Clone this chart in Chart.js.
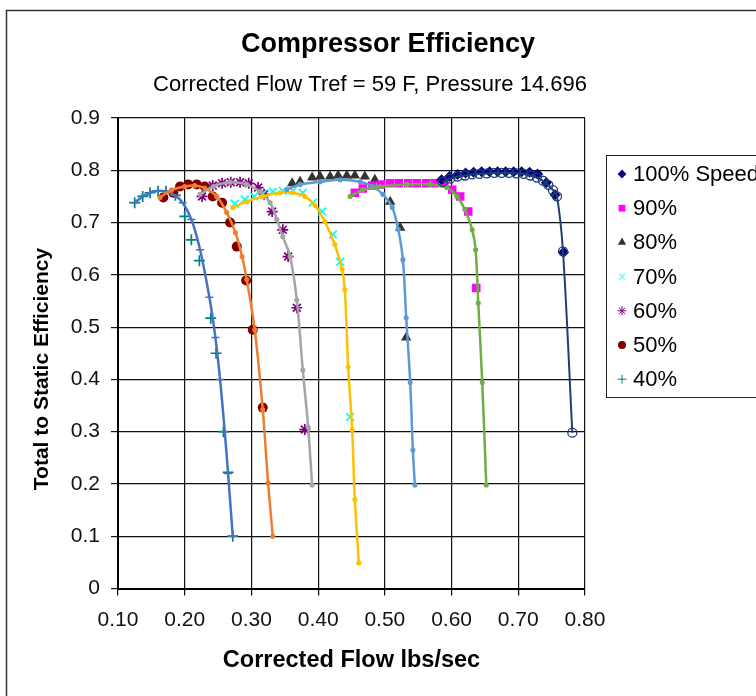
<!DOCTYPE html>
<html>
<head>
<meta charset="utf-8">
<script src="https://cdn.jsdelivr.net/npm/chart.js@4.4.1/dist/chart.umd.min.js"></script>
<style>
  html, body { margin: 0; padding: 0; background: #fff; }
  canvas { display: block; }
</style>
</head>
<body>
<canvas id="grafico" width="756" height="696"></canvas>
<script>
const FONTE = '"Liberation Sans", Arial, sans-serif';

// legend labels, top to bottom
const series = ['100% Speed', '90%', '80%', '70%', '60%', '50%', '40%'];

const xTicks = [0.1, 0.2, 0.3, 0.4, 0.5, 0.6, 0.7, 0.8];
const yTicks = [0, 0.1, 0.2, 0.3, 0.4, 0.5, 0.6, 0.7, 0.8, 0.9];

// measured points [flow, efficiency]
const pts100 = [[0.585,0.782],[0.597,0.788],[0.609,0.792],[0.621,0.795],[0.633,0.796],[0.645,0.797],[0.657,0.797],[0.669,0.797],[0.681,0.797],[0.693,0.797],[0.705,0.797],[0.717,0.796],[0.729,0.793],[0.742,0.776],[0.755,0.753],[0.768,0.643]];
const pts90 = [[0.455,0.757],[0.467,0.765],[0.481,0.771],[0.494,0.773],[0.508,0.775],[0.521,0.775],[0.535,0.775],[0.548,0.775],[0.562,0.775],[0.575,0.775],[0.589,0.775],[0.601,0.763],[0.613,0.75],[0.625,0.721],[0.637,0.575]];
const pts80 = [[0.361,0.775],[0.373,0.778],[0.391,0.786],[0.403,0.788],[0.418,0.788],[0.43,0.79],[0.443,0.79],[0.455,0.79],[0.47,0.788],[0.485,0.782],[0.508,0.74],[0.523,0.69],[0.532,0.48]];
const pts70 = [[0.275,0.736],[0.29,0.744],[0.304,0.75],[0.317,0.755],[0.332,0.759],[0.347,0.761],[0.362,0.761],[0.377,0.757],[0.392,0.738],[0.406,0.721],[0.422,0.677],[0.433,0.625],[0.448,0.328]];
const pts60 = [[0.226,0.75],[0.242,0.771],[0.256,0.775],[0.269,0.777],[0.283,0.777],[0.296,0.775],[0.31,0.767],[0.319,0.754],[0.331,0.721],[0.347,0.686],[0.355,0.635],[0.368,0.537],[0.38,0.304]];
const pts50 = [[0.168,0.748],[0.183,0.757],[0.193,0.769],[0.205,0.773],[0.218,0.773],[0.23,0.769],[0.242,0.75],[0.256,0.738],[0.268,0.7],[0.278,0.654],[0.292,0.589],[0.302,0.495],[0.317,0.346]];
const pts40 = [[0.125,0.738],[0.137,0.75],[0.148,0.757],[0.16,0.76],[0.172,0.76],[0.186,0.752],[0.2,0.712],[0.21,0.667],[0.222,0.627],[0.239,0.517],[0.247,0.45],[0.258,0.3],[0.265,0.222],[0.272,0.1]];

// fitted curves
const fit100 = [[0.587,0.778],[0.598,0.784],[0.609,0.788],[0.62,0.79],[0.631,0.792],[0.642,0.793],[0.653,0.794],[0.664,0.795],[0.675,0.795],[0.686,0.795],[0.697,0.794],[0.708,0.793],[0.718,0.79],[0.728,0.786],[0.737,0.78],[0.745,0.772],[0.752,0.762],[0.758,0.75],[0.767,0.645],[0.781,0.298]];
const fit90 = [[0.448,0.75],[0.467,0.763],[0.493,0.769],[0.533,0.773],[0.568,0.773],[0.593,0.767],[0.608,0.75],[0.62,0.725],[0.631,0.686],[0.636,0.648],[0.64,0.546],[0.646,0.394],[0.652,0.198]];
const fit80 = [[0.353,0.763],[0.373,0.773],[0.403,0.778],[0.433,0.782],[0.463,0.778],[0.482,0.769],[0.497,0.754],[0.511,0.729],[0.52,0.687],[0.527,0.629],[0.532,0.518],[0.538,0.394],[0.542,0.265],[0.545,0.198]];
const fit70 = [[0.272,0.729],[0.293,0.74],[0.317,0.75],[0.343,0.757],[0.362,0.757],[0.38,0.75],[0.395,0.733],[0.41,0.702],[0.425,0.658],[0.436,0.61],[0.44,0.572],[0.445,0.424],[0.451,0.303],[0.455,0.17],[0.461,0.049]];
const fit60 = [[0.223,0.754],[0.243,0.769],[0.268,0.777],[0.293,0.773],[0.313,0.759],[0.328,0.738],[0.338,0.706],[0.347,0.673],[0.358,0.635],[0.368,0.552],[0.377,0.418],[0.385,0.309],[0.391,0.198]];
const fit50 = [[0.163,0.748],[0.18,0.762],[0.2,0.769],[0.215,0.771],[0.23,0.766],[0.248,0.75],[0.263,0.719],[0.276,0.681],[0.286,0.635],[0.293,0.591],[0.305,0.495],[0.317,0.342],[0.325,0.202],[0.332,0.1]];
const fit40 = [[0.125,0.738],[0.14,0.752],[0.155,0.76],[0.17,0.76],[0.185,0.752],[0.197,0.738],[0.21,0.706],[0.223,0.648],[0.237,0.557],[0.246,0.48],[0.253,0.4],[0.26,0.3],[0.265,0.22],[0.272,0.1]];

const pontos = [pts100, pts90, pts80, pts70, pts60, pts50, pts40];
const curvas = [fit100, fit90, fit80, fit70, fit60, fit50, fit40];

// marker look per series
const corMarca = ['#000080', '#ff00ff', '#333333', '#00ffff', '#800080', '#800000', '#008080'];
const estiloMarca = ['rectRot', 'rect', 'triangle', 'crossRot', 'star', 'circle', 'cross'];
const raioMarca = [5.5, 6, 6, 5.5, 5.5, 5, 5.5];
// curve colours
const corCurva = ['#1f3d73', '#70ad47', '#5b9bd5', '#ffc000', '#a5a5a5', '#ed7d31', '#4472c4'];

const xy = arr => arr.map(p => ({ x: p[0], y: p[1] }));

const datasets = [];
curvas.forEach((c, i) => {
  const navy = i === 0;
  datasets.push({
    label: series[i] + ' fit',
    data: xy(c),
    showLine: true,
    tension: 0.35,
    borderColor: corCurva[i],
    borderWidth: navy ? 2 : 2.5,
    pointStyle: i === 6 ? 'line' : 'circle',
    pointRadius: navy ? 4.5 : (i === 6 ? 4 : 1.8),
    pointBorderWidth: navy ? 1.3 : 1.5,
    pointBorderColor: corCurva[i],
    pointBackgroundColor: navy ? 'rgba(0,0,0,0)' : corCurva[i],
    order: 0
  });
});
pontos.forEach((p, i) => {
  datasets.push({
    label: series[i],
    legenda: true,
    data: xy(p),
    showLine: false,
    pointStyle: estiloMarca[i],
    pointRadius: raioMarca[i],
    pointBorderWidth: (estiloMarca[i].startsWith('cross') || estiloMarca[i] === 'star') ? 1.7 : 0,
    pointBorderColor: corMarca[i],
    pointBackgroundColor: corMarca[i],
    order: 1
  });
});

// frame, titles and legend box
const decoracao = {
  id: 'decoracao',
  beforeDraw(chart) {
    const ctx = chart.ctx;
    ctx.save();
    ctx.fillStyle = '#fff';
    ctx.fillRect(0, 0, chart.width, chart.height);
    ctx.strokeStyle = '#333';
    ctx.lineWidth = 1.5;
    ctx.strokeRect(6.5, 10.5, 900, 900);
    ctx.restore();
  },
  afterDraw(chart) {
    const ctx = chart.ctx;
    ctx.save();
    ctx.fillStyle = '#000';
    ctx.textAlign = 'center';
    ctx.textBaseline = 'middle';
    ctx.font = 'bold 27px ' + FONTE;
    ctx.fillText('Compressor Efficiency', 388, 45);
    ctx.font = '22px ' + FONTE;
    ctx.fillText('Corrected Flow Tref = 59 F, Pressure 14.696', 370, 85);

    ctx.save();
    ctx.translate(42, 369);
    ctx.rotate(-Math.PI / 2);
    ctx.font = 'bold 21px ' + FONTE;
    ctx.fillText('Total to Static Efficiency', 0, 0);
    ctx.restore();

    // legend
    ctx.strokeStyle = '#222';
    ctx.lineWidth = 1;
    ctx.strokeRect(606.5, 155.5, 300, 242);
    ctx.textAlign = 'left';
    ctx.font = '22px ' + FONTE;
    let k = 0;
    chart.data.datasets.forEach(ds => {
      if (!ds.legenda) return;
      const y = 174 + k * 34.2;
      ctx.fillStyle = ds.pointBackgroundColor;
      ctx.strokeStyle = ds.pointBorderColor;
      Chart.helpers.drawPoint(ctx, {
        pointStyle: ds.pointStyle,
        radius: ds.pointRadius * 0.8,
        rotation: 0,
        borderWidth: ds.pointBorderWidth
      }, 622, y);
      ctx.fillStyle = '#000';
      ctx.fillText(ds.label, 633, y + 1);
      k++;
    });
    ctx.restore();
  }
};

const ctx = document.getElementById('grafico').getContext('2d');

const grafico = new Chart(ctx, {
  type: 'scatter',
  data: { datasets },
  plugins: [decoracao],
  options: {
    responsive: false,
    animation: false,
    layout: { padding: { left: 0, right: 171, top: 118, bottom: 0 } },
    scales: {
      x: {
        type: 'linear',
        min: 0.1,
        max: 0.8,
        afterBuildTicks: s => { s.ticks = xTicks.map(v => ({ value: v })); },
        afterFit: s => { s.height = 696 - 588.5; },
        ticks: {
          color: '#111',
          padding: 12,
          font: { family: FONTE, size: 21 },
          callback: v => v.toFixed(2)
        },
        grid: { color: '#111', lineWidth: 1.2, tickLength: 7 },
        border: { color: '#000', width: 2 },
        title: {
          display: true,
          text: 'Corrected Flow lbs/sec',
          color: '#000',
          font: { family: FONTE, size: 23.5, weight: 'bold' },
          padding: { top: 21, bottom: 21 }
        }
      },
      y: {
        type: 'linear',
        min: 0,
        max: 0.9,
        afterBuildTicks: s => { s.ticks = yTicks.map(v => ({ value: v })); },
        afterFit: s => { s.width = 118; },
        ticks: {
          color: '#111',
          padding: 11,
          font: { family: FONTE, size: 21 },
          callback: v => v === 0 ? '0' : v.toFixed(1)
        },
        grid: { color: '#111', lineWidth: 1.2, tickLength: 7 },
        border: { color: '#000', width: 2 }
      }
    },
    plugins: {
      legend: { display: false },
      tooltip: { enabled: false }
    }
  }
});
</script>
</body>
</html>
